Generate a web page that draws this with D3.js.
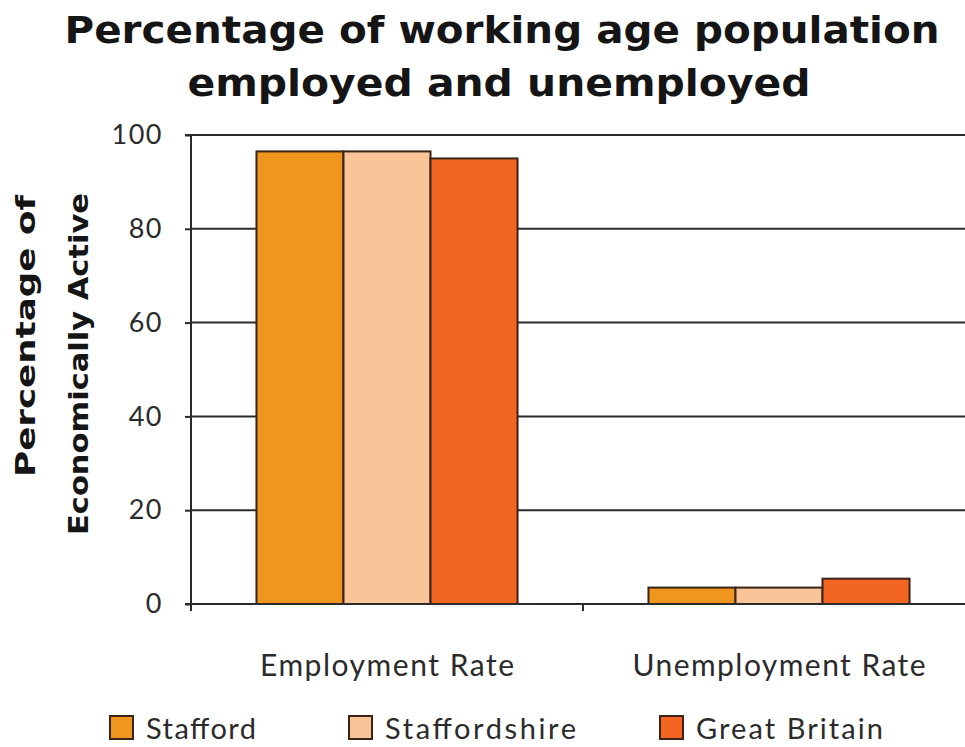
<!DOCTYPE html>
<html><head><meta charset="utf-8">
<script src="https://cdn.jsdelivr.net/npm/d3@7"></script>
<style>body{margin:0;background:#fff}svg{display:block}</style>
</head><body>
<script>
const categories = ["Employment Rate", "Unemployment Rate"];
const series = ["Stafford", "Staffordshire", "Great Britain"];
const stafford = [96.5, 3.5];
const staffordshire = [96.5, 3.5];
const greatBritain = [95.0, 5.4];
const yTicks = [0, 20, 40, 60, 80, 100];
const colors = ["#F0961E", "#F8C498", "#F26522"];

const values = [stafford, staffordshire, greatBritain];
const data = categories.map((c, i) => ({cat: c, vals: series.map((s, j) => ({s, v: values[j][i], j}))}));

const W = 965, H = 747;
const svg = d3.select("body").append("svg").attr("width", W).attr("height", H);
const pL = 191, pR = 975, pT = 135, pB = 604;

const x0 = d3.scaleBand().domain(categories).range([pL, pR]).padding(0);
const bw = x0.bandwidth();
const x1 = d3.scaleBand().domain(series).range([bw * 0.167, bw * 0.833]).padding(0);
const y = d3.scaleLinear().domain([0, 100]).range([pB, pT]);

const tickFont = "Lato, 'Open Sans', sans-serif";
const boldFont = "'DejaVu Sans', 'Open Sans', sans-serif";
const ink = "#2b2b2b";

// gridlines
svg.append("g").selectAll("line").data(yTicks.filter(d => d > 0)).join("line")
  .attr("x1", pL).attr("x2", pR).attr("y1", d => y(d)).attr("y2", d => y(d))
  .attr("stroke", ink).attr("stroke-width", 2);

// bars
const g = svg.append("g").selectAll("g").data(data).join("g")
  .attr("transform", d => `translate(${x0(d.cat)},0)`);
g.selectAll("rect").data(d => d.vals).join("rect")
  .attr("x", d => x1(d.s)).attr("width", x1.bandwidth())
  .attr("y", d => y(d.v)).attr("height", d => y(0) - y(d.v))
  .attr("fill", d => colors[d.j]).attr("stroke", "#3a2418").attr("stroke-width", 2);

// y axis
const yAxis = d3.axisLeft(y).tickValues(yTicks).tickSize(6).tickPadding(22).tickFormat(d3.format("d"));
const ya = svg.append("g").attr("transform", `translate(${pL},0)`).call(yAxis);
ya.select(".domain").attr("stroke", ink).attr("stroke-width", 2).attr("d", `M-6,${pT}H0V${pB}H-6`);
ya.selectAll(".tick line").attr("stroke", ink).attr("stroke-width", 2);
ya.selectAll(".tick text").attr("font-family", tickFont).attr("font-size", 27).attr("fill", ink)
  .attr("letter-spacing", 1.5);

// x axis
const xa = svg.append("g").attr("transform", `translate(0,${pB})`);
xa.append("line").attr("x1", pL).attr("x2", pR).attr("stroke", ink).attr("stroke-width", 2);
xa.selectAll(".xt").data([pL, ...categories.map(c => x0(c) + bw)]).join("line")
  .attr("x1", d => d).attr("x2", d => d).attr("y1", 0).attr("y2", 7)
  .attr("stroke", ink).attr("stroke-width", 2);
const xLabelLen = [254, 293];
xa.selectAll("text").data(categories).join("text")
  .attr("x", c => x0(c) + bw / 2).attr("y", 72).attr("text-anchor", "middle")
  .attr("font-family", tickFont).attr("font-size", 30).attr("fill", ink)
  .attr("textLength", (c, i) => xLabelLen[i]).attr("lengthAdjust", "spacing").text(c => c);

// title
const title = svg.append("text").attr("text-anchor", "middle").attr("font-family", boldFont)
  .attr("font-weight", "bold").attr("font-size", 38).attr("fill", "#151515");
title.append("tspan").attr("x", 502).attr("y", 43).attr("textLength", 875).attr("lengthAdjust", "spacingAndGlyphs")
  .text("Percentage of working age population");
title.append("tspan").attr("x", 499).attr("y", 96).attr("textLength", 623).attr("lengthAdjust", "spacingAndGlyphs")
  .text("employed and unemployed");

// y title
const yt = svg.append("g").attr("transform", "rotate(-90)");
yt.append("text").attr("x", -336).attr("y", 35).attr("text-anchor", "middle")
  .attr("font-family", boldFont).attr("font-weight", "bold").attr("font-size", 26).attr("fill", "#151515")
  .attr("textLength", 282).attr("lengthAdjust", "spacingAndGlyphs").text("Percentage of");
yt.append("text").attr("x", -364).attr("y", 88).attr("text-anchor", "middle")
  .attr("font-family", boldFont).attr("font-weight", "bold").attr("font-size", 26).attr("fill", "#151515")
  .attr("textLength", 342).attr("lengthAdjust", "spacingAndGlyphs").text("Economically Active");

// legend
const legX = [110, 349, 660];
const legLen = [110, 191, 187];
const lg = svg.append("g").selectAll("g").data(series).join("g")
  .attr("transform", (d, i) => `translate(${legX[i]},716)`);
lg.append("rect").attr("width", 23).attr("height", 23).attr("fill", (d, i) => colors[i])
  .attr("stroke", "#3a2418").attr("stroke-width", 2);
lg.append("text").attr("x", 36).attr("y", 23).attr("font-family", tickFont).attr("font-size", 29)
  .attr("fill", ink).attr("textLength", (d, i) => legLen[i]).attr("lengthAdjust", "spacing").text(d => d);
</script>
</body></html>
